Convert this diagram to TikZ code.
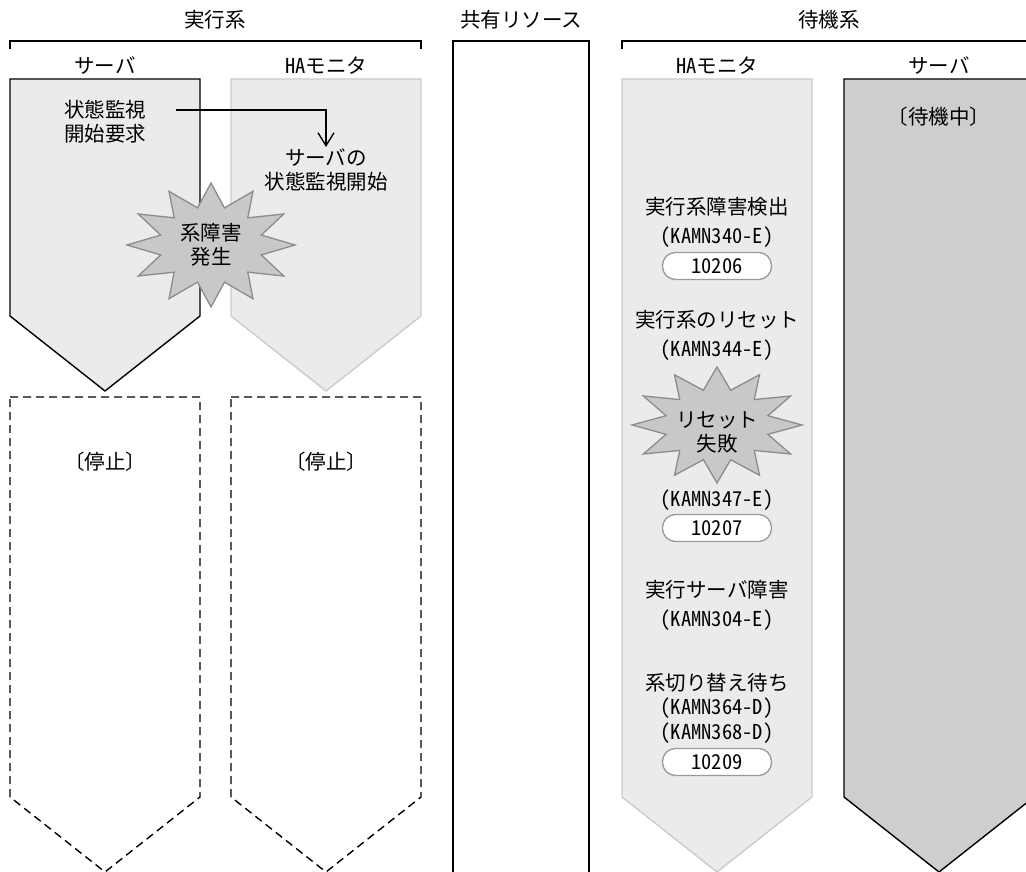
\documentclass[tikz,border=0pt]{standalone}
\usepackage{fontspec}
\setmainfont{Noto Sans CJK JP}
\newfontfamily\hw{Noto Sans CJK JP}[RawFeature=+hwid] % half-width latin
\usetikzlibrary{arrows.meta, positioning}

\definecolor{lanefill}{HTML}{EBEBEB}
\definecolor{laneedge}{HTML}{CCCCCC}
\definecolor{waitfill}{HTML}{CECECE}
\definecolor{burstfill}{HTML}{C8C8C8}
\definecolor{burstedge}{HTML}{8C8C8C}
\definecolor{pilledge}{HTML}{999999}

\tikzset{
  every node/.style={font=\fontsize{20.5}{24}\selectfont, align=center,
    inner sep=1pt}, % all labels share one size
  bracket/.style={line width=1.6pt},
  lane/.style={fill=lanefill, draw=black, line width=1.4pt},
  ghost/.style={fill=lanefill, draw=laneedge, line width=1.4pt}, % grey edge
  stopped/.style={draw=black, dashed, dash pattern=on 8pt off 5pt,
    line width=1.4pt},
  waiting/.style={fill=waitfill, draw=black, line width=1.4pt},
  burst/.style={fill=burstfill, draw=burstedge, line width=1.3pt},
  pill/.style={draw=pilledge, fill=white, line width=1.3pt,
    rounded corners=13pt, minimum width=109pt, minimum height=27pt},
  flow/.style={-{Straight Barb[length=13pt, width=16pt]}, line width=1.4pt},
}

% lane shape: [style]{centre x}{top y}{side bottom y}
\newcommand{\lane}[4][lane]{%
  \draw[#1] (#2-95,#3) -- (#2+95,#3) -- (#2+95,#4) -- (#2,#4+75)
    -- (#2-95,#4) -- cycle;}
% starburst: {centre}{x radius}{y radius}
\newcommand{\burst}[3]{%
  \draw[burst] (#1) +(0:#2 and #3)
    \foreach \a in {0,30,...,330}{
      -- +(\a+15:0.62*#2 and 0.62*#3) -- +(\a+30:#2 and #3)} -- cycle;}

\begin{document}
\begin{tikzpicture}[x=1pt, y=-1pt]
  \useasboundingbox (0,0) rectangle (1026,872);
  \clip (0,0) rectangle (1026,872);

  % headers
  \node (act) at (215,20) {実行系};
  \node (res) at (521,20) {共有リソース};
  \node (sby) at (829,20) {待機系};
  \draw[bracket] (10,49) -- (10,41) -- (421,41) -- (421,49);
  \draw[bracket] (622,49) -- (622,41) -- (1040,41);

  \node (actsrv) at (105,66) {サーバ};
  \node (actmon) at (326,66) {{\hw HA}モニタ};
  \node (sbymon) at (717,66) {{\hw HA}モニタ};
  \node (sbysrv) at (939,66) {サーバ};

  % lanes
  \lane{105}{79}{316}
  \lane[ghost]{326}{79}{316}
  \lane[stopped]{105}{397}{797}
  \lane[stopped]{326}{397}{797}
  \lane[ghost]{717}{79}{797}
  \lane[waiting]{939}{79}{797}
  \draw[line width=1.6pt] (453,880) -- (453,41) -- (589,41) -- (589,880);

  % active side
  \node (req) at (105,121.5) {状態監視\\開始要求};
  \node (mon) at (326,169.5) {サーバの\\状態監視開始};
  \coordinate (reqout) at (176,110);
  \draw[flow] (reqout) -| (mon.north);
  \burst{211,245}{84}{62}
  \node (fail) at (211,245) {系障害\\発生};
  \node (stop1) at (105,462) {〔停止〕};
  \node (stop2) at (326,462) {〔停止〕};

  % standby side
  \node (wait) at (939,117) {〔待機中〕};
  \node (det) at (717,207) {実行系障害検出};
  \node (m340) at (717,237) {\hw (KAMN340-E)};
  \node[pill] (c206) at (717,266) {\hw 10206};
  \node (rst) at (717,320) {実行系のリセット};
  \node (m344) at (717,350) {\hw (KAMN344-E)};
  \burst{717,425}{85}{58}
  \node (rstng) at (717,432) {リセット\\失敗};
  \node (m347) at (717,500) {\hw (KAMN347-E)};
  \node[pill] (c207) at (717,528) {\hw 10207};
  \node (srvng) at (717,590) {実行サーバ障害};
  \node (m304) at (717,620) {\hw (KAMN304-E)};
  \node (swt) at (717,683) {系切り替え待ち};
  \node (m364) at (717,708) {\hw (KAMN364-D)};
  \node (m368) at (717,733) {\hw (KAMN368-D)};
  \node[pill] (c209) at (717,762) {\hw 10209};
\end{tikzpicture}
\end{document}
